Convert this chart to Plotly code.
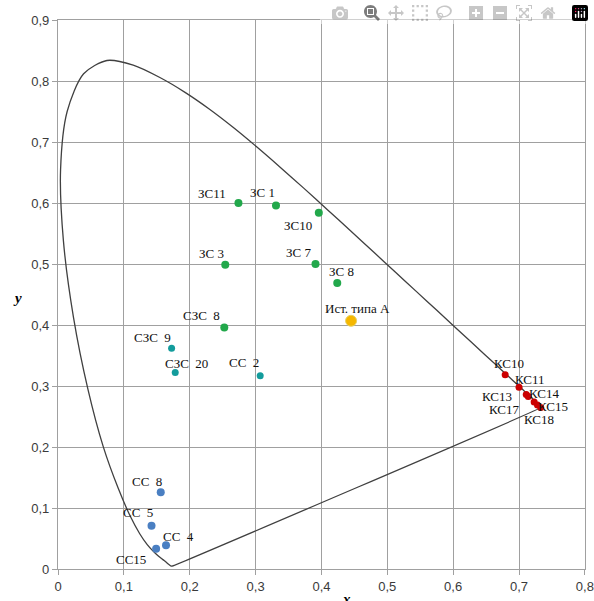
import plotly.graph_objects as go

# Spectral locus (CIE 1931, 2°), 380-700 nm step 5 nm
locus_x = [0.1741, 0.1740, 0.1738, 0.1736, 0.1733, 0.1730, 0.1726, 0.1721, 0.1714, 0.1703,
           0.1689, 0.1669, 0.1644, 0.1611, 0.1566, 0.1510, 0.1440, 0.1355, 0.1241, 0.1096,
           0.0913, 0.0687, 0.0454, 0.0235, 0.0082, 0.0039, 0.0139, 0.0389, 0.0743, 0.1142,
           0.1547, 0.1929, 0.2296, 0.2658, 0.3016, 0.3373, 0.3731, 0.4087, 0.4441, 0.4788,
           0.5125, 0.5448, 0.5752, 0.6029, 0.6270, 0.6482, 0.6658, 0.6801, 0.6915, 0.7006,
           0.7079, 0.7140, 0.7190, 0.7230, 0.7260, 0.7283, 0.7300, 0.7311, 0.7320, 0.7327,
           0.7334, 0.7340, 0.7344, 0.7346, 0.7347]
locus_y = [0.0050, 0.0050, 0.0049, 0.0049, 0.0048, 0.0048, 0.0048, 0.0048, 0.0051, 0.0058,
           0.0069, 0.0086, 0.0109, 0.0138, 0.0177, 0.0227, 0.0297, 0.0399, 0.0578, 0.0868,
           0.1327, 0.2007, 0.2950, 0.4127, 0.5384, 0.6548, 0.7502, 0.8120, 0.8338, 0.8262,
           0.8059, 0.7816, 0.7543, 0.7243, 0.6923, 0.6589, 0.6245, 0.5896, 0.5547, 0.5202,
           0.4866, 0.4544, 0.4242, 0.3965, 0.3725, 0.3514, 0.3340, 0.3197, 0.3083, 0.2993,
           0.2920, 0.2859, 0.2809, 0.2770, 0.2740, 0.2717, 0.2700, 0.2689, 0.2680, 0.2673,
           0.2666, 0.2660, 0.2656, 0.2654, 0.2653]

# Colour samples
green_names = ["ЗС11", "ЗС 1", "ЗС10", "ЗС 7", "ЗС 8", "ЗС 3", "СЗС\u00a0\u00a08"]
green_x = [0.274, 0.331, 0.396, 0.391, 0.424, 0.254, 0.2525]
green_y = [0.600, 0.596, 0.584, 0.500, 0.469, 0.499, 0.396]

teal_names = ["СЗС\u00a0\u00a09", "СЗС\u00a0\u00a020", "СС\u00a0\u00a02"]
teal_x = [0.1725, 0.178, 0.307]
teal_y = [0.362, 0.322, 0.317]

blue_names = ["СС\u00a0\u00a08", "СС\u00a0\u00a05", "СС\u00a0\u00a04", "СС15"]
blue_x = [0.156, 0.142, 0.164, 0.149]
blue_y = [0.126, 0.071, 0.039, 0.033]

red_names = ["КС10", "КС11", "КС13", "КС14", "КС17", "КС15", "КС18"]
red_x = [0.679, 0.700, 0.711, 0.714, 0.723, 0.728, 0.733]
red_y = [0.3185, 0.298, 0.286, 0.283, 0.274, 0.269, 0.265]

src_names = ["Ист. типа А"]
src_x = [0.445]
src_y = [0.407]

tick_x_vals = [0, 0.1, 0.2, 0.3, 0.4, 0.5, 0.6, 0.7, 0.8]
tick_x_text = ["0", "0,1", "0,2", "0,3", "0,4", "0,5", "0,6", "0,7", "0,8"]
tick_y_vals = [0, 0.1, 0.2, 0.3, 0.4, 0.5, 0.6, 0.7, 0.8, 0.9]
tick_y_text = ["0", "0,1", "0,2", "0,3", "0,4", "0,5", "0,6", "0,7", "0,8", "0,9"]

# label offsets in pixels (style)
green_off = [(-26, 10), (-13, 13), (-21, -13), (-17, 12), (4, 11), (-14, 11), (-23, 12)]
teal_off = [(-19, 11), (11, 9), (-16, 13)]
blue_off = [(-14, 11), (-14, 13), (12, 9), (-25, -11)]
red_off = [(4, 11), (11, 8), (-29, -2), (16, 3), (-30, -8), (16, -2), (-2, -12)]
src_off = [(6, 12)]

fig = go.Figure()

# locus + purple line
fig.add_trace(go.Scatter(x=locus_x + [locus_x[0]], y=locus_y + [locus_y[0]], mode="lines",
                         line=dict(color="#404040", width=1.3, shape="spline", smoothing=0.8),
                         hoverinfo="skip", showlegend=False))

groups = [
    (green_names, green_x, green_y, "#22a84b", 8, green_off),
    (teal_names, teal_x, teal_y, "#139c9c", 7, teal_off),
    (blue_names, blue_x, blue_y, "#4a7fc2", 8, blue_off),
    (red_names, red_x, red_y, "#cc0000", 7, red_off),
    (src_names, src_x, src_y, "#f5b700", 11, src_off),
]

annotations = []
for names, xs, ys, col, sz, offs in groups:
    fig.add_trace(go.Scatter(x=xs, y=ys, mode="markers",
                             marker=dict(color=col, size=sz,
                                         line=dict(width=1 if col == "#f5b700" else 0,
                                                   color="#e8d060")),
                             text=names, showlegend=False))
    for n, xx, yy, (dx, dy) in zip(names, xs, ys, offs):
        annotations.append(dict(x=xx, y=yy, text=n, showarrow=False,
                                xshift=dx, yshift=dy,
                                font=dict(family="Liberation Serif", size=13, color="#111111")))

annotations.append(dict(x=-0.09, y=0.445, xref="paper", yref="y", text="<b><i>y</i></b>",
                        showarrow=False,
                        font=dict(family="Liberation Serif", size=15, color="#000000")))
annotations.append(dict(x=0.438, y=-0.036, xref="x", yref="paper", text="<b><i>x</i></b>",
                        showarrow=False, yanchor="top",
                        font=dict(family="Liberation Serif", size=15, color="#000000")))

axis_common = dict(showgrid=True, gridcolor="#a0a0a0", gridwidth=1.3,
                   zeroline=False, ticks="outside", ticklen=5, tickcolor="#a0a0a0",
                   tickwidth=1.3, automargin=False, ticklabeloverflow="allow",
                   tickfont=dict(family="Liberation Sans", size=13, color="#3a3a3a"),
                   showline=True, linecolor="#a0a0a0", linewidth=1.3, mirror=True)

fig.update_layout(
    width=594, height=601,
    margin=dict(l=58, r=9, t=20, b=32),
    plot_bgcolor="white", paper_bgcolor="white",
    xaxis=dict(range=[0, 0.8002], tickvals=tick_x_vals, ticktext=tick_x_text, **axis_common),
    yaxis=dict(range=[0, 0.9002], tickvals=tick_y_vals, ticktext=tick_y_text, **axis_common),
    annotations=annotations,
)

# remove the default page margin and scrollbars so the figure fills the window exactly
fig.write_html("out.html",
               post_script="document.body.style.margin='0';"
                           "document.body.style.overflow='hidden';"
                           "document.documentElement.style.overflow='hidden';")
